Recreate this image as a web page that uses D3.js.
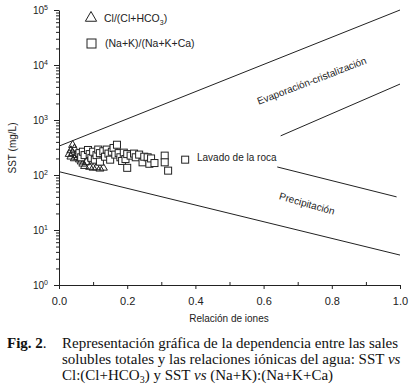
<!DOCTYPE html>
<html>
<head>
<meta charset="utf-8">
<script src="https://cdn.jsdelivr.net/npm/d3@7"></script>
<style>
  body { margin: 0; background: #fff; }
  svg { display: block; }
</style>
</head>
<body>
<svg id="chart" width="409" height="390"></svg>
<script>
// Cl/(Cl+HCO3) vs SST (mg/L)
const triangles = [
  [0.040, 350], [0.045, 300], [0.035, 280], [0.040, 250], [0.030, 240],
  [0.050, 230], [0.035, 215], [0.055, 210], [0.045, 200], [0.060, 190],
  [0.065, 175], [0.080, 170], [0.070, 160], [0.075, 145], [0.090, 140],
  [0.100, 135], [0.110, 137], [0.120, 130], [0.130, 135]
];

// (Na+K)/(Na+K+Ca) vs SST (mg/L)
const squares = [
  [0.060, 250], [0.065, 210], [0.070, 265], [0.075, 230], [0.085, 285],
  [0.090, 240], [0.095, 205], [0.100, 265], [0.105, 190], [0.110, 230],
  [0.115, 290], [0.120, 250], [0.120, 175], [0.130, 270], [0.135, 215],
  [0.140, 290], [0.145, 245], [0.150, 190], [0.155, 265], [0.160, 310],
  [0.165, 235], [0.170, 355], [0.175, 250], [0.180, 210], [0.185, 180],
  [0.190, 255], [0.195, 195], [0.200, 135], [0.200, 240], [0.210, 225],
  [0.220, 245], [0.225, 210], [0.235, 235], [0.245, 170], [0.250, 215],
  [0.260, 210], [0.265, 160], [0.270, 200], [0.280, 165], [0.310, 225],
  [0.310, 170], [0.320, 120], [0.370, 190]
];

// boundary lines (ratio, SST)
const evapLine = [[0, 335], [1.0, 100000]];
const evapSegment = [[0.65, 515], [1.0, 4500]];
const precipSegment = [[0.64, 140], [0.99, 40]];
const precipLine = [[0, 115], [1.0, 3.5]];

const xMajorTicks = [0, 0.2, 0.4, 0.6, 0.8, 1.0];
const xMinorTicks = [0.1, 0.3, 0.5, 0.7, 0.9];
const yDecades = [0, 1, 2, 3, 4, 5];

const svg = d3.select("#chart");
const ink = "#222";
const sans = "'Liberation Sans', Arial, sans-serif";
const serif = "'Liberation Serif', 'Times New Roman', serif";

const x = d3.scaleLinear().domain([0, 1]).range([59, 400]);
const y = d3.scaleLog().domain([1, 1e5]).range([285, 10]);

// minor log ticks
const yMinor = [];
yDecades.slice(0, -1).forEach(k => {
  for (let m = 2; m <= 9; m++) yMinor.push(m * Math.pow(10, k));
});

// y axis
svg.append("g")
  .attr("transform", `translate(${x(0)},0)`)
  .call(d3.axisLeft(y).tickValues(yDecades.map(k => Math.pow(10, k)))
    .tickSize(5).tickSizeOuter(0).tickFormat(""));
svg.append("g")
  .attr("transform", `translate(${x(0)},0)`)
  .call(d3.axisLeft(y).tickValues(yMinor).tickSize(3).tickSizeOuter(0).tickFormat(""))
  .select(".domain").remove();

// y tick labels with superscripts
yDecades.forEach(k => {
  const t = svg.append("text")
    .attr("x", 48)
    .attr("y", y(Math.pow(10, k)) + 4)
    .attr("text-anchor", "end")
    .attr("font-family", sans)
    .attr("font-size", "10px")
    .attr("fill", ink);
  t.append("tspan").text("10");
  t.append("tspan").attr("dy", -4).attr("font-size", "7px").text(k);
});

// x axis
svg.append("g")
  .attr("transform", `translate(0,${y(1)})`)
  .call(d3.axisBottom(x).tickValues(xMajorTicks).tickSize(4).tickSizeOuter(0)
    .tickFormat(d3.format(".1f")))
  .call(g => g.selectAll("text")
    .attr("y", 10)
    .attr("dy", "0.9em")
    .attr("font-family", sans)
    .attr("font-size", "11px")
    .attr("fill", ink));
svg.append("g")
  .attr("transform", `translate(0,${y(1)})`)
  .call(d3.axisBottom(x).tickValues(xMinorTicks).tickSize(-3).tickSizeOuter(0).tickFormat(""))
  .select(".domain").remove();

svg.selectAll(".domain, .tick line").attr("stroke", ink);

// axis titles
svg.append("text")
  .attr("transform", `translate(16,148) rotate(-90)`)
  .attr("text-anchor", "middle")
  .attr("font-family", sans)
  .attr("font-size", "10px")
  .attr("fill", ink)
  .text("SST (mg/L)");

svg.append("text")
  .attr("x", 229)
  .attr("y", 322)
  .attr("text-anchor", "middle")
  .attr("font-family", sans)
  .attr("font-size", "10px")
  .attr("fill", ink)
  .text("Relación de iones");

// boundary lines
const line = d3.line().x(d => x(d[0])).y(d => y(d[1]));
[evapLine, evapSegment, precipSegment, precipLine].forEach(seg => {
  svg.append("path")
    .datum(seg)
    .attr("fill", "none")
    .attr("stroke", ink)
    .attr("stroke-width", 1)
    .attr("d", line);
});

// region labels
svg.append("text")
  .attr("transform", "translate(313,84) rotate(-21)")
  .attr("text-anchor", "middle")
  .attr("font-family", sans)
  .attr("font-size", "10px")
  .attr("fill", ink)
  .text("Evaporación-cristalización");

svg.append("text")
  .attr("x", 197)
  .attr("y", 161)
  .attr("font-family", sans)
  .attr("font-size", "10px")
  .attr("fill", ink)
  .text("Lavado de la roca");

svg.append("text")
  .attr("transform", "translate(306,207) rotate(16)")
  .attr("text-anchor", "middle")
  .attr("font-family", sans)
  .attr("font-size", "10px")
  .attr("fill", ink)
  .text("Precipitación");

// markers
const triPath = d3.symbol().type(d3.symbolTriangle).size(28);
svg.append("g").selectAll("path")
  .data(triangles)
  .join("path")
  .attr("transform", d => `translate(${x(d[0])},${y(d[1])})`)
  .attr("d", triPath)
  .attr("fill", "none")
  .attr("stroke", ink)
  .attr("stroke-width", 1);

const sq = 7;
svg.append("g").selectAll("rect")
  .data(squares)
  .join("rect")
  .attr("x", d => x(d[0]) - sq / 2)
  .attr("y", d => y(d[1]) - sq / 2)
  .attr("width", sq)
  .attr("height", sq)
  .attr("fill", "#fff")
  .attr("stroke", ink)
  .attr("stroke-width", 1);

// legend
svg.append("path")
  .attr("transform", "translate(91,18)")
  .attr("d", d3.symbol().type(d3.symbolTriangle).size(55)())
  .attr("fill", "none")
  .attr("stroke", ink);
const leg1 = svg.append("text")
  .attr("x", 104).attr("y", 22)
  .attr("font-family", sans).attr("font-size", "10.5px").attr("fill", ink);
leg1.append("tspan").text("Cl/(Cl+HCO");
leg1.append("tspan").attr("dy", 3).attr("font-size", "7px").text("3");
leg1.append("tspan").attr("dy", -3).text(")");

svg.append("rect")
  .attr("x", 87).attr("y", 39).attr("width", 9).attr("height", 9)
  .attr("fill", "#fff").attr("stroke", ink);
svg.append("text")
  .attr("x", 105).attr("y", 47)
  .attr("font-family", sans).attr("font-size", "10.5px").attr("fill", ink)
  .text("(Na+K)/(Na+K+Ca)");

// caption
const cap = svg.append("g")
  .attr("font-family", serif)
  .attr("font-size", "15px")
  .attr("fill", "#111");
const c1 = cap.append("text").attr("x", 7).attr("y", 348);
c1.append("tspan").attr("font-weight", "bold").text("Fig. 2");
c1.append("tspan").text(".");
cap.append("text").attr("x", 62).attr("y", 348)
  .text("Representación gráfica de la dependencia entre las sales");
const c2 = cap.append("text").attr("x", 62).attr("y", 364);
c2.append("tspan").text("solubles totales y las relaciones iónicas del agua: SST ");
c2.append("tspan").attr("font-style", "italic").text("vs");
const c3 = cap.append("text").attr("x", 62).attr("y", 380);
c3.append("tspan").text("Cl:(Cl+HCO");
c3.append("tspan").attr("dy", 3).attr("font-size", "10px").text("3");
c3.append("tspan").attr("dy", -3).text(") y SST ");
c3.append("tspan").attr("font-style", "italic").text("vs");
c3.append("tspan").text(" (Na+K):(Na+K+Ca)");
</script>
</body>
</html>
